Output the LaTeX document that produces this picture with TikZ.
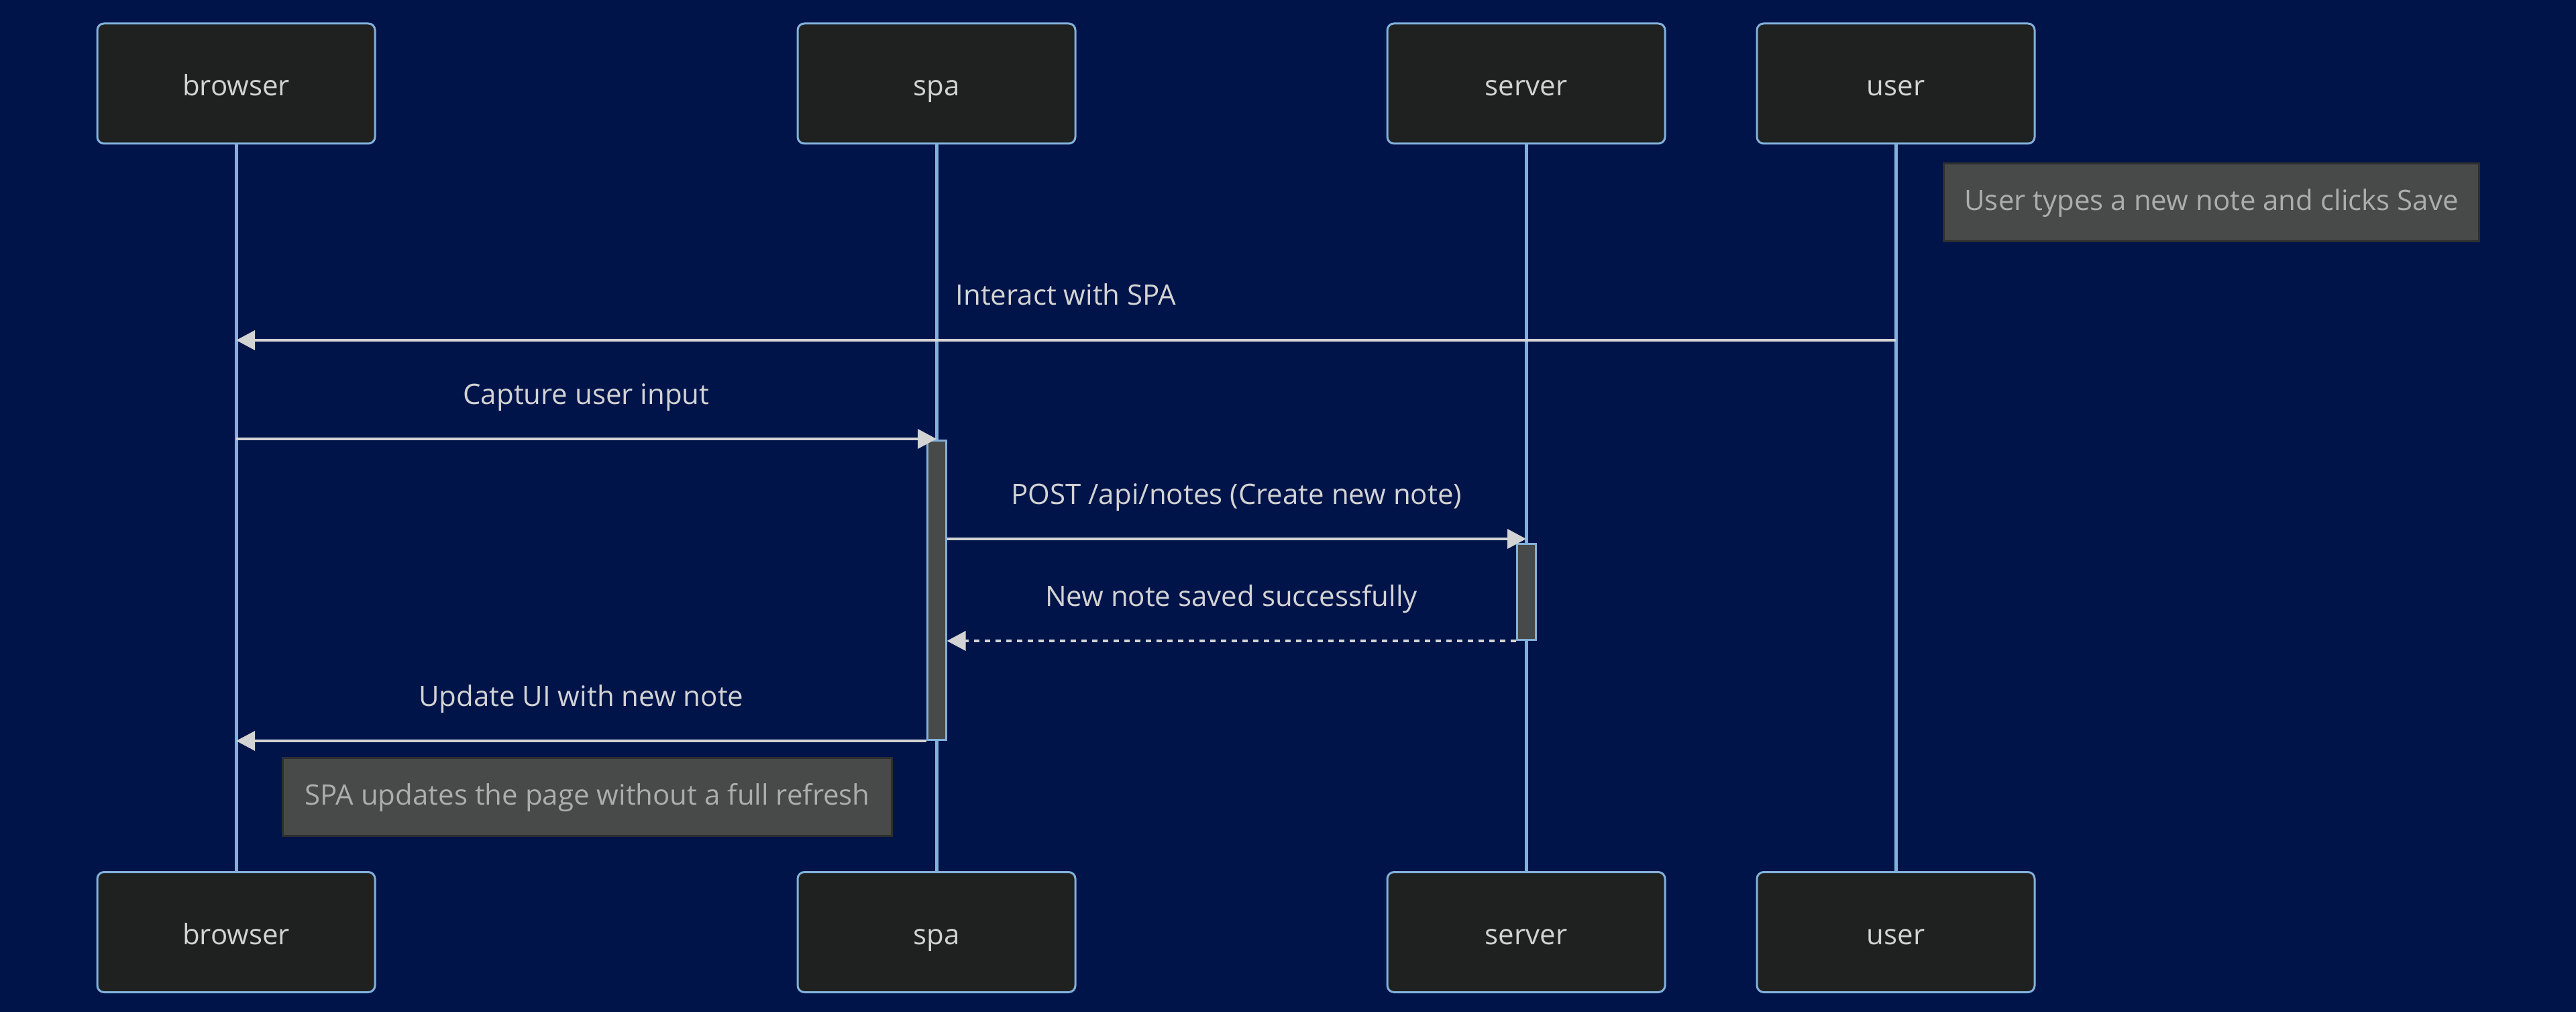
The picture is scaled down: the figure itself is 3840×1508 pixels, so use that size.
\documentclass[tikz,border=0pt]{standalone}
\usepackage{fontspec}
\setmainfont{Open Sans}
\usepackage{tikz}
\usetikzlibrary{arrows.meta}

\definecolor{bgnavy}{HTML}{00144A}
\definecolor{actorfill}{HTML}{1F2020}
\definecolor{lifeblue}{HTML}{81B1DB}
\definecolor{notefill}{HTML}{484A49}
\definecolor{noteedge}{HTML}{2E2F2F}
\definecolor{msgtext}{HTML}{D3D3D3}
\definecolor{notetext}{HTML}{ADADAD}

\begin{document}
\begin{tikzpicture}[x=0.25pt, y=-0.25pt, font=\fontsize{10.5pt}{12.5pt}\selectfont,
                actbar/.style={draw=lifeblue, line width=0.75pt, fill=notefill, minimum width=7pt, inner sep=0pt, anchor=north},
                notebox/.style={draw=noteedge, line width=0.75pt, fill=notefill, text=notetext, minimum height=29pt, inner sep=0pt, text height=7pt, text depth=1pt, anchor=north west},
                msglabel/.style={anchor=base, yshift=13pt, text=msgtext}]
                \fill[bgnavy] (0,0) rectangle (3840,1508);
                \useasboundingbox (0,0) rectangle (3840,1508);

                \begin{scope}[every node/.style={draw=lifeblue, line width=0.75pt, fill=actorfill, text=msgtext, rounded corners=2.5pt, minimum width=103.5pt, minimum height=44.75pt, inner sep=0pt, text height=10pt, text depth=0.8pt}]
                        \node (browser) at (352,124.5) {browser};
                        \node (spa) at (1396,124.5) {spa};
                        \node (server) at (2275,124.5) {server};
                        \node (user) at (2826,124.5) {user};
                        \node (browser2) at (352,1389) {browser};
                        \node (spa2) at (1396,1389) {spa};
                        \node (server2) at (2275,1389) {server};
                        \node (user2) at (2826,1389) {user};
                \end{scope}

                \begin{scope}[every path/.style={draw=lifeblue, line width=1.25pt}]
                        \path (browser) -- (browser2);
                        \path (spa) -- (spa2);
                        \path (server) -- (server2);
                        \path (user) -- (user2);
                \end{scope}

                \node [notebox, minimum width=199.5pt] (usernote) at (2896,242) {User types a new note and clicks Save};
                \node [actbar, minimum height=111.5pt] (spaact) at (1396,655) {};
                \node [actbar, minimum height=35.75pt] (serveract) at (2275,809) {};
                \node [notebox, minimum width=227pt] (spanote) at (420,1128) {SPA updates the page without a full refresh};

                \begin{scope}[every path/.style={draw=msgtext, line width=1pt, -{Triangle[length=7pt,width=7.2pt]}}]
                        \path (user |- 0,507) -- node [msglabel] {Interact with SPA} (browser |- 0,507);
                        \path (browser |- 0,654) -- node [msglabel] {Capture user input} (spa |- 0,654);
                        \path (spaact.east |- 0,803) -- node [msglabel] {POST /api/notes (Create new note)} (server |- 0,803);
                        \path [dash pattern=on 2pt off 2pt] (serveract.south west) -- node [msglabel] {New note saved successfully} (spaact.east |- serveract.south);
                        \path (spaact.south west) -- node [msglabel] {Update UI with new note} (browser |- spaact.south);
                \end{scope}
        \end{tikzpicture}
\end{document}
